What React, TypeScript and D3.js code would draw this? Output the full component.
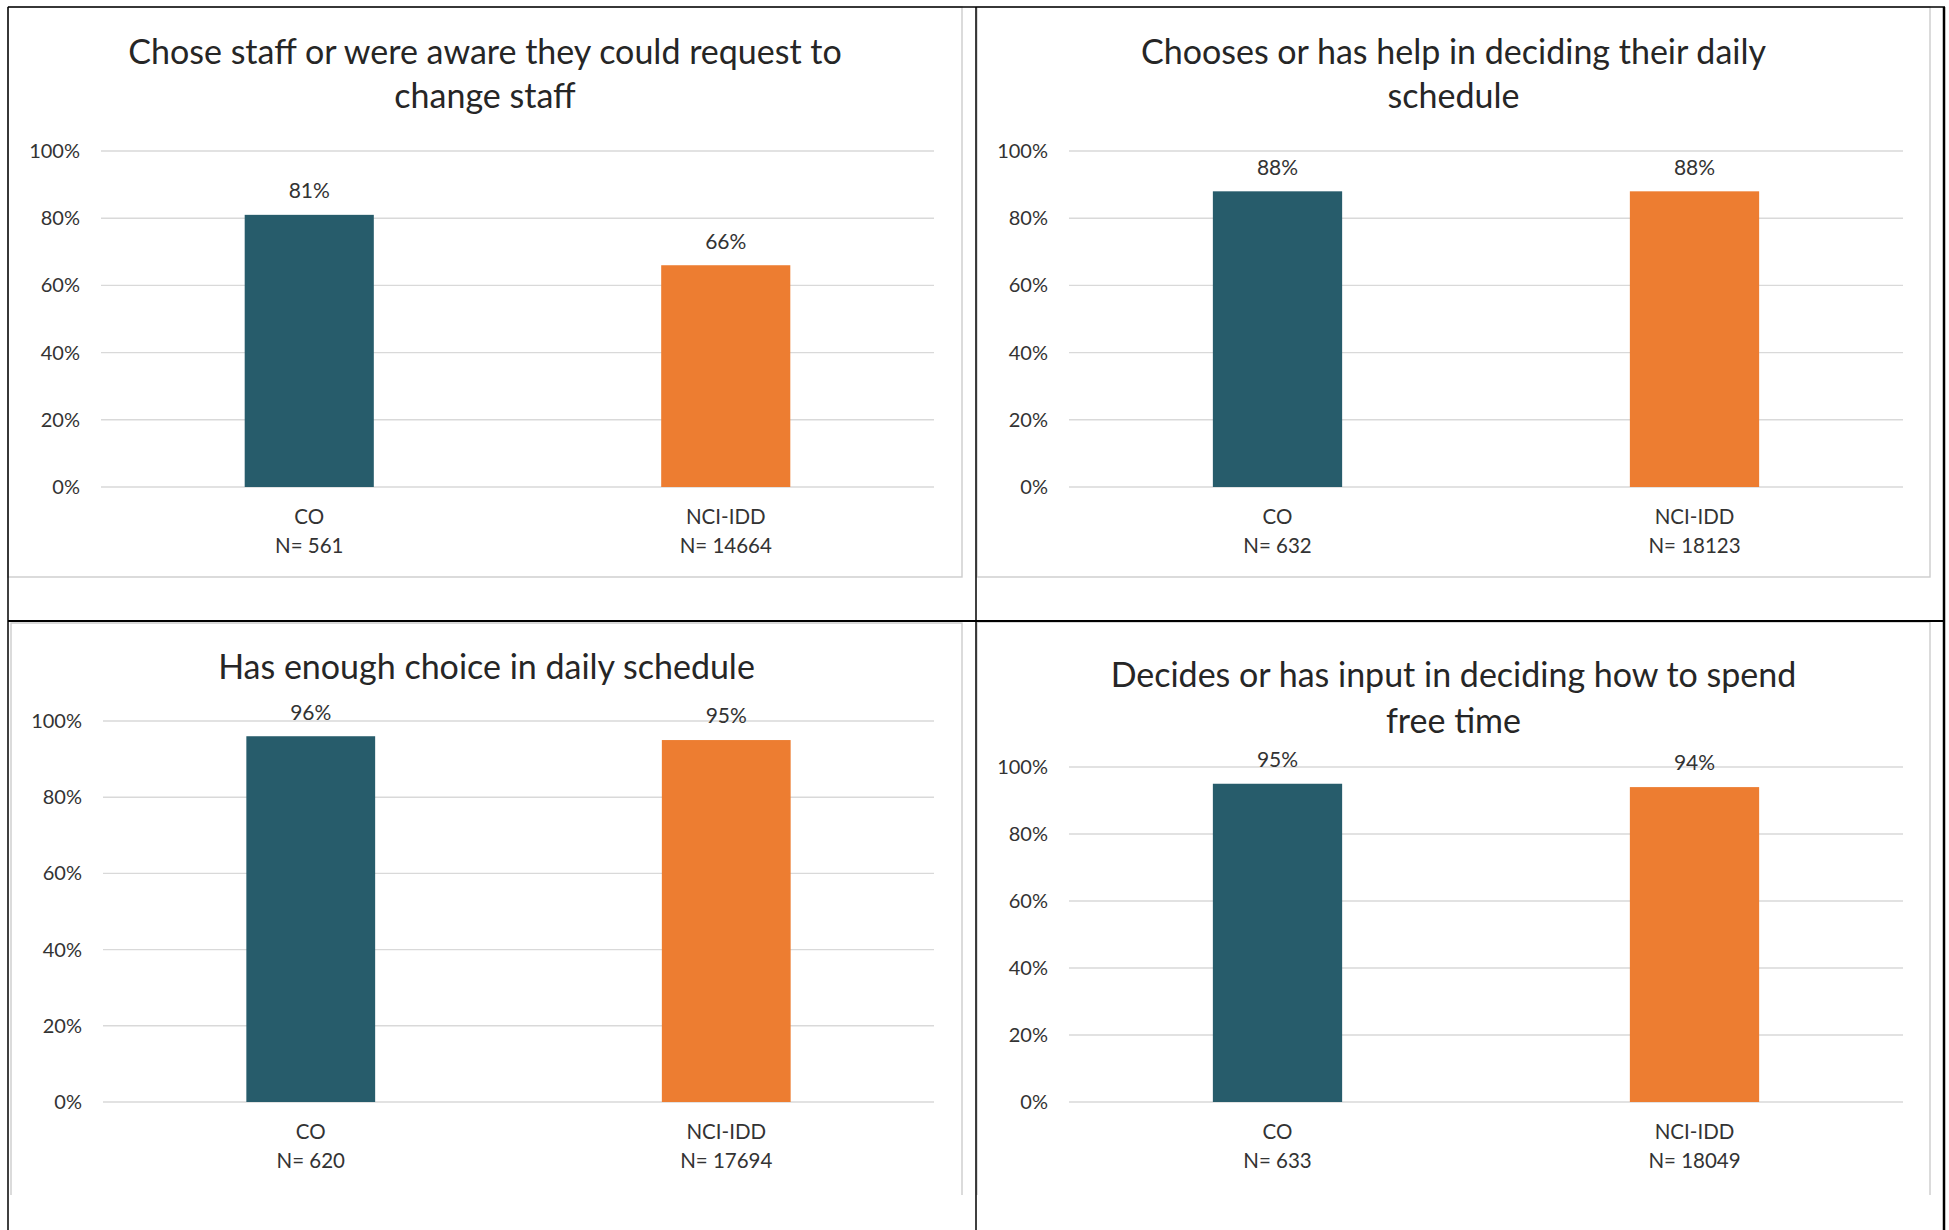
import React from "react";
import * as d3 from "d3";

const titles: string[][] = [
  ["Chose staff or were aware they could request to", "change staff"],
  ["Chooses or has help in deciding their daily", "schedule"],
  ["Has enough choice in daily schedule"],
  ["Decides or has input in deciding how to spend", "free time"],
];
const categories = ["CO", "NCI-IDD"];
const coValues = [81, 88, 96, 95];
const nciValues = [66, 88, 95, 94];
const coN = [561, 632, 620, 633];
const nciN = [14664, 18123, 17694, 18049];
const yTicks = [0, 20, 40, 60, 80, 100];

const barColors = ["#275C6B", "#ED7D31"];
const FONT = "Lato, 'Open Sans', sans-serif";

type Layout = {
  box: [number, number, number, number]; // x0,y0,x1,y1
  openBottom: boolean;
  titleY: number[];
  plot: { x0: number; x1: number; yTop: number; yBottom: number };
};

const layouts: Layout[] = [
  { box: [8, 7, 962, 577], openBottom: false, titleY: [52, 96], plot: { x0: 101, x1: 934, yTop: 151, yBottom: 487 } },
  { box: [977, 7, 1930, 577], openBottom: false, titleY: [52, 96], plot: { x0: 1069, x1: 1903, yTop: 151, yBottom: 487 } },
  { box: [11, 623, 962, 1195], openBottom: true, titleY: [667], plot: { x0: 103, x1: 934, yTop: 721, yBottom: 1102 } },
  { box: [977, 622, 1930, 1195], openBottom: true, titleY: [675, 721], plot: { x0: 1069, x1: 1903, yTop: 767, yBottom: 1102 } },
];

function Panel({ i }: { i: number }) {
  const L = layouts[i];
  const { x0, x1, yTop, yBottom } = L.plot;
  const x = d3.scaleBand<string>().domain(categories).range([x0, x1]).paddingInner(0.69).paddingOuter(0.345);
  const y = d3.scaleLinear().domain([0, 100]).range([yBottom, yTop]);
  const values = [coValues[i], nciValues[i]];
  const ns = [coN[i], nciN[i]];
  const [bx0, by0, bx1, by1] = L.box;
  const cx = (bx0 + bx1) / 2;
  const bw = x.bandwidth();
  return (
    <g>
      {L.openBottom ? (
        <path d={`M${bx0},${by1} L${bx0},${by0} L${bx1},${by0} L${bx1},${by1}`} fill="none" stroke="#CCCCCC" strokeWidth={1.4} />
      ) : (
        <rect x={bx0} y={by0} width={bx1 - bx0} height={by1 - by0} fill="#FFFFFF" stroke="#CCCCCC" strokeWidth={1.4} />
      )}
      {L.titleY.map((ty, k) => (
        <text key={k} x={cx} y={ty} dy="0.35em" textAnchor="middle" fontFamily={FONT} fontSize={34} fill="#262626">
          {titles[i][k]}
        </text>
      ))}
      {yTicks.map((t) => (
        <g key={t}>
          <line x1={x0} x2={x1} y1={y(t)} y2={y(t)} stroke="#D9D9D9" strokeWidth={1.4} />
          <text x={x0 - 21} y={y(t)} dy="0.35em" textAnchor="end" fontFamily={FONT} fontSize={20} fill="#333333">
            {t}%
          </text>
        </g>
      ))}
      {categories.map((c, k) => {
        const bx = x(c) as number;
        const mid = bx + bw / 2;
        return (
          <g key={c}>
            <rect x={bx} y={y(values[k])} width={bw} height={y(0) - y(values[k])} fill={barColors[k]} />
            <text x={mid} y={y(values[k]) - 24} dy="0.35em" textAnchor="middle" fontFamily={FONT} fontSize={21} fill="#333333">
              {values[k]}%
            </text>
            <text x={mid} y={yBottom + 30} dy="0.35em" textAnchor="middle" fontFamily={FONT} fontSize={20.5} fill="#333333">
              {c}
            </text>
            <text x={mid} y={yBottom + 59} dy="0.35em" textAnchor="middle" fontFamily={FONT} fontSize={20.5} fill="#333333">
              {`N= ${ns[k]}`}
            </text>
          </g>
        );
      })}
    </g>
  );
}

export default function App() {
  return (
    <svg width={1949} height={1230} style={{ position: "absolute", left: 0, top: 0, background: "#FFFFFF" }}>
      <rect x={0} y={0} width={1949} height={1230} fill="#FFFFFF" />
      {layouts.map((_, i) => (
        <Panel key={i} i={i} />
      ))}
      <g stroke="#000000" strokeWidth={1.5} fill="none">
        <line x1={8} x2={1945} y1={7} y2={7} />
        <line x1={8} x2={8} y1={7} y2={1230} />
        <line x1={976} x2={976} y1={7} y2={1230} />
        <line x1={1944} x2={1944} y1={7} y2={1230} strokeWidth={2.5} />
        <line x1={8} x2={1945} y1={621} y2={621} strokeWidth={2} />
      </g>
    </svg>
  );
}
